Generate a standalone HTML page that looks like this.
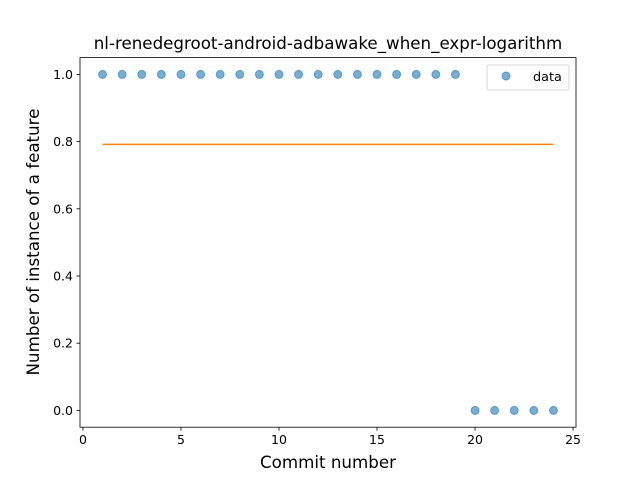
<!DOCTYPE html>
<html><head><meta charset="utf-8"><style>body{margin:0;background:#fff}svg{display:block;font-family:"DejaVu Sans","Liberation Sans",sans-serif}</style></head>
<body>
<svg id="chart" width="640" height="480">
<rect width="640" height="480" fill="#fff"/>
<text x="328" y="49" text-anchor="middle" font-size="16.7">nl-renedegroot-android-adbawake_when_expr-logarithm</text>
<g id="plot"></g>
<rect x="80" y="57.6" width="496" height="369.6" fill="none" stroke="#000" stroke-width="0.8"/>
<text x="328" y="468" text-anchor="middle" font-size="16.7">Commit number</text>
<text transform="translate(39,242) rotate(-90)" text-anchor="middle" font-size="16.7">Number of instance of a feature</text>
<g>
<rect x="487" y="65" width="82" height="25" rx="2" fill="#fff" stroke="#ccc" stroke-width="0.8"/>
<circle cx="506" cy="76" r="4" fill="#1f77b4" fill-opacity="0.6" stroke="#1f77b4" stroke-opacity="0.6"/>
<text x="533" y="81" font-size="12.8">data</text>
</g>
</svg>
<script>
const xs = [1,2,3,4,5,6,7,8,9,10,11,12,13,14,15,16,17,18,19,20,21,22,23,24];
const ys = [1,1,1,1,1,1,1,1,1,1,1,1,1,1,1,1,1,1,1,0,0,0,0,0];
const fitValue = 0.7917;
const xTicks = [0,5,10,15,20,25];
const yTicks = [0.0,0.2,0.4,0.6,0.8,1.0];
const NS="http://www.w3.org/2000/svg";
const L=80,R=576,T=57.6,B=427.2;
const xmin=-0.15,xmax=25.15,ymin=-0.05,ymax=1.05;
const sx=v=>L+(v-xmin)/(xmax-xmin)*(R-L);
const sy=v=>B-(v-ymin)/(ymax-ymin)*(B-T);
const g=document.getElementById('plot');
function mk(t,a){const e=document.createElementNS(NS,t);for(const k in a)e.setAttribute(k,a[k]);g.appendChild(e);return e;}
xTicks.forEach(t=>{
 const l=mk('line',{x1:sx(t),x2:sx(t),y1:B,y2:B+3.5,stroke:'#000','stroke-width':0.8});
 
 
 const tx=mk('text',{x:sx(t),y:B+17,'text-anchor':'middle','font-size':12.5});tx.textContent=t;
 
 
});
yTicks.forEach(t=>{
 const l=mk('line',{x1:L-3.5,x2:L,y1:sy(t),y2:sy(t),stroke:'#000','stroke-width':0.8});
 
 
 const tx=mk('text',{x:L-7,y:sy(t)+4.5,'text-anchor':'end','font-size':12.5});tx.textContent=t.toFixed(1);
 
 
});
const fl=mk('line',{x1:sx(xs[0]),x2:sx(xs[xs.length-1]),y1:sy(fitValue),y2:sy(fitValue),stroke:'#ff7f0e','stroke-width':1.5});


xs.forEach((x,i)=>{
 const c=mk('circle',{cx:sx(x),cy:sy(ys[i]),r:4,fill:'#1f77b4','fill-opacity':0.6,stroke:'#1f77b4','stroke-opacity':0.6});
 
 
});
</script>
</body></html>
